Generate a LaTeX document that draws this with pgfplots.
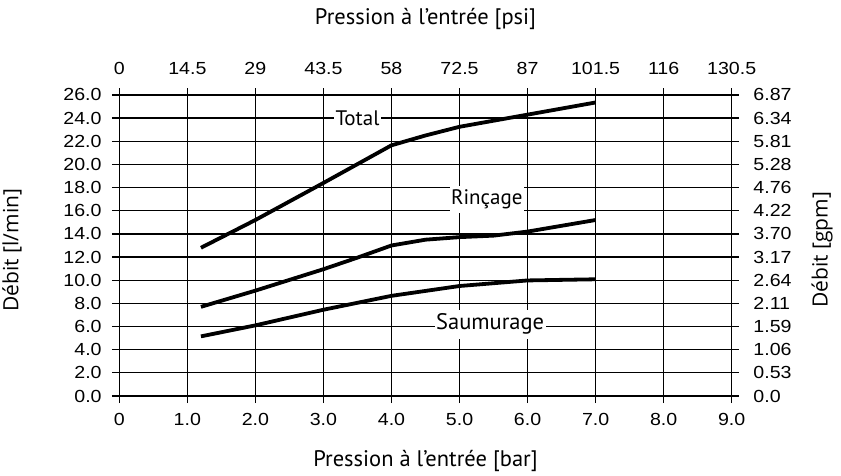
\documentclass[border=0pt]{standalone}
\usepackage{fontspec}
\usepackage{pgfplots}
\pgfplotsset{compat=1.18}
\newfontfamily\tickfont[FakeStretch=1.12]{Liberation Sans}
\newfontfamily\dinfont{PT Sans}
\newfontfamily\ylabfont{Open Sans}

\pgfplotstableread{
x y
1.2 12.8
2.0 15.2
3.0 18.4
4.0 21.65
4.5 22.5
5.0 23.25
6.0 24.3
7.0 25.35
}\total
\pgfplotstableread{
x y
1.2 7.7
2.0 9.1
3.0 10.95
3.5 11.95
4.0 13.0
4.5 13.5
5.0 13.72
5.5 13.85
6.0 14.2
7.0 15.2
}\rincage
\pgfplotstableread{
x y
1.2 5.15
2.0 6.1
3.0 7.45
4.0 8.65
5.0 9.5
6.0 9.98
7.0 10.08
}\saumurage

\begin{document}
\begin{tikzpicture}
\path[use as bounding box] (-111.8pt,-72pt) rectangle (729.2pt,403pt);
\pgfplotsset{
  common/.style={
    scale only axis, width=627.4pt, height=315pt,
    xmin=-0.11, xmax=9.11, ymin=-0.605, ymax=26.6,
    axis line style={draw=none},
    tick style={draw=none},
    xtick={0,...,9}, ytick={0,2,...,26},
    tick label style={font=\tickfont\fontsize{17.5}{17.5}\selectfont, inner sep=0pt},
    clip=false,
  }
}
\begin{axis}[common,
  xticklabels={0,1.0,2.0,3.0,4.0,5.0,6.0,7.0,8.0,9.0},
  yticklabels={0.0,2.0,4.0,6.0,8.0,10.0,12.0,14.0,16.0,18.0,20.0,22.0,24.0,26.0},
  grid=major, major grid style={black, line width=1.25pt},
  xticklabel style={anchor=north, yshift=-10pt},
  yticklabel style={anchor=east, xshift=-10pt},
]
\addplot[black, line width=3.8pt, line join=round] table {\total};
\addplot[black, line width=3.8pt, line join=round] table {\rincage};
\addplot[black, line width=3.8pt, line join=round] table {\saumurage};
\node[fill=white, inner xsep=1.5pt, inner ysep=0pt, minimum height=20pt, font=\dinfont\fontsize{21}{21}\selectfont] at (axis cs:3.5,24) {Total};
\node[fill=white, inner xsep=1.5pt, inner ysep=0pt, minimum height=27pt, font=\dinfont\fontsize{21}{21}\selectfont] at (axis cs:5.4,17.0) {Rinçage};
\node[fill=white, inner xsep=1.5pt, inner ysep=0pt, minimum height=29pt, font=\dinfont\fontsize{22.5}{22.5}\selectfont] at (axis cs:5.45,6.2) {Saumurage};
\end{axis}
\begin{axis}[common,
  xticklabels={0,14.5,29,43.5,58,72.5,87,101.5,116,130.5},
  yticklabels={0.0,0.53,1.06,1.59,2.11,2.64,3.17,3.70,4.22,4.76,5.28,5.81,6.34,6.87},
  xticklabel pos=top, yticklabel pos=right,
  xticklabel style={anchor=south, yshift=13pt},
  yticklabel style={anchor=west, xshift=14pt},
]
\addplot[draw=none] coordinates {(0,0)};
\end{axis}
\node[font=\dinfont\fontsize{22.5}{22.5}\selectfont] at (313.7pt,384pt) {Pression à l’entrée [psi]};
\node[font=\dinfont\fontsize{22.5}{22.5}\selectfont] at (313.7pt,-58pt) {Pression à l’entrée [bar]};
\node[font=\ylabfont\fontsize{21}{21}\selectfont, rotate=90] at (-99.8pt,153pt) {Débit [l/min]};
\node[font=\ylabfont\fontsize{21}{21}\selectfont, rotate=90] at (710.2pt,153pt) {Débit [gpm]};
\end{tikzpicture}
\end{document}
